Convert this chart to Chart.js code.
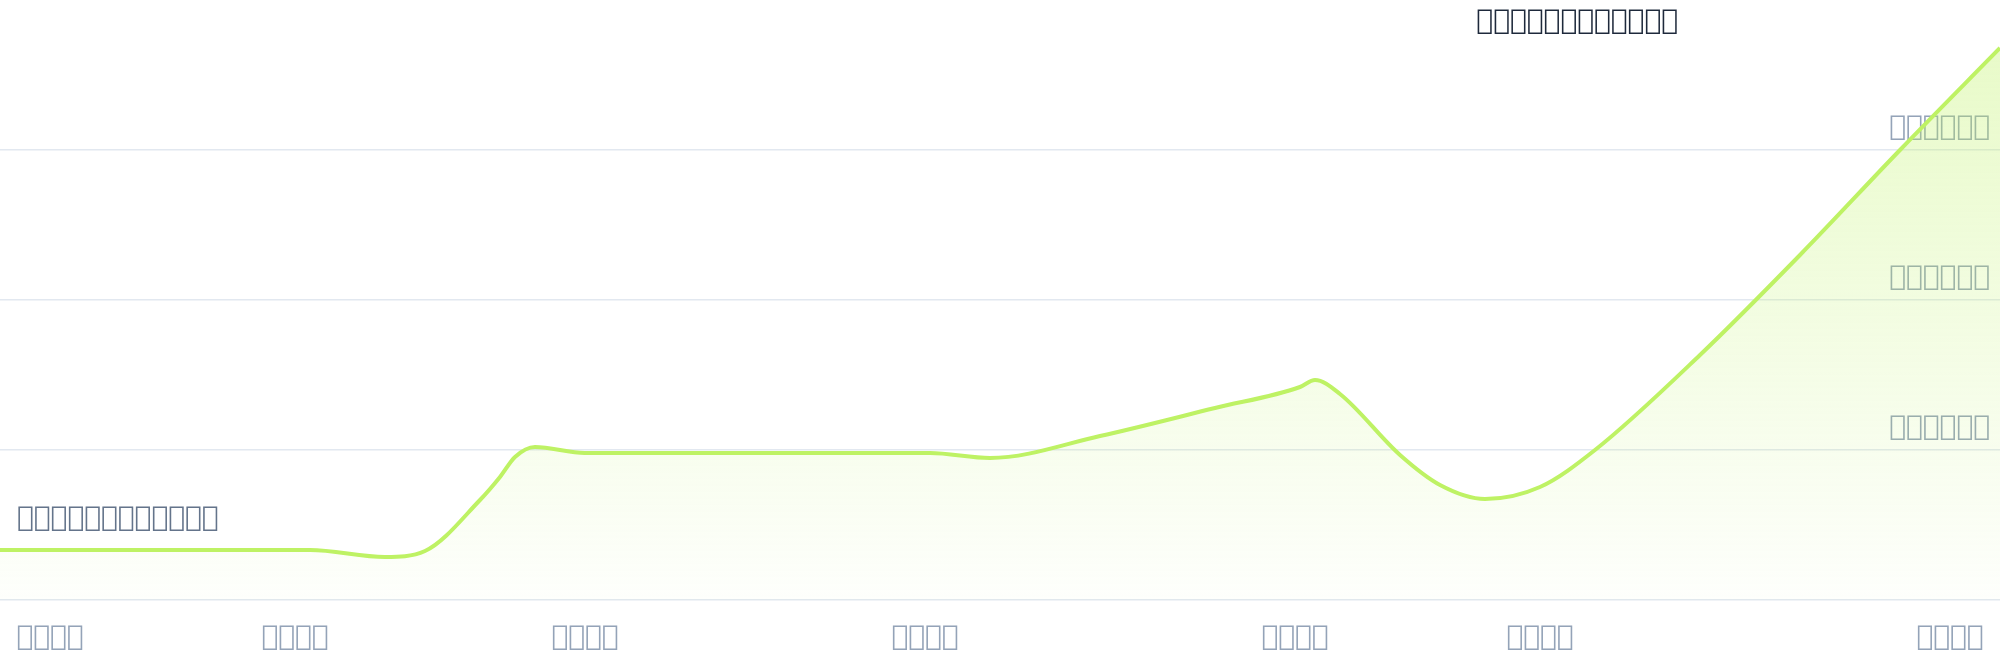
<!DOCTYPE html>
<html>
<head>
<meta charset="utf-8">
<script src="https://cdn.jsdelivr.net/npm/chart.js@4.4.1/dist/chart.umd.min.js"></script>
<style>
  html, body { margin: 0; padding: 0; background: #ffffff; }
  #wrap { width: 2000px; height: 660px; position: relative; }
</style>
</head>
<body>
<div id="wrap"><canvas id="priceChart"></canvas></div>
<script>
// days since start
const dayValues = [0, 62, 77, 85, 96, 100, 103, 107, 117, 186, 198, 220, 243, 260, 263, 268, 280, 288, 297, 308, 319, 340, 360, 380, 400];
const priceValues = [4000, 4000, 3440, 3920, 8000, 9840, 11440, 12240, 11760, 11760, 11360, 13120, 15360, 17040, 17600, 16480, 11600, 9200, 8080, 9040, 12000, 19600, 27600, 36000, 44160];

// the reference text shows only as empty glyph boxes, so it is kept as
// code points that no installed font covers
const xTickDays = [10, 59, 117, 185, 259, 308, 390];
const xTickLabels = [
    '\uE000\uE001\uE002\uE003', '\uE010\uE011\uE012\uE013', '\uE020\uE021\uE022\uE023',
    '\uE030\uE031\uE032\uE033', '\uE040\uE041\uE042\uE043', '\uE050\uE051\uE052\uE053',
    '\uE060\uE061\uE062\uE063'
];

const yTickValues = [0, 12000, 24000, 36000];
const yTickLabels = ['', '\uE100\uE101\uE102\uE103\uE104\uE105', '\uE110\uE111\uE112\uE113\uE114\uE115', '\uE120\uE121\uE122\uE123\uE124\uE125'];

const peakNote = '\uE200\uE201\uE202\uE203\uE204\uE205\uE206\uE207\uE208\uE209\uE20A\uE20B';
const startNote = '\uE300\uE301\uE302\uE303\uE304\uE305\uE306\uE307\uE308\uE309\uE30A\uE30B';

const FONT = "'DejaVu Sans', sans-serif";
const FSIZE = 28;

// two captions: top right and above the first point
const notesPlugin = {
    id: 'notes',
    afterDatasetsDraw(chart) {
        const { ctx, chartArea } = chart;
        ctx.save();
        ctx.font = FSIZE + 'px ' + FONT;
        ctx.textBaseline = 'middle';

        ctx.fillStyle = '#1e293b';
        ctx.textAlign = 'right';
        ctx.fillText(peakNote, chartArea.right - 322, 22);

        ctx.fillStyle = '#64748b';
        ctx.textAlign = 'left';
        ctx.fillText(startNote, chartArea.left + 17, 519);
        ctx.restore();
    }
};

const ctx = document.getElementById('priceChart');

new Chart(ctx, {
    type: 'line',
    data: {
        datasets: [{
            data: dayValues.map((d, i) => ({ x: d, y: priceValues[i] })),
            borderColor: '#bef264',
            borderWidth: 4,
            pointRadius: 0,
            cubicInterpolationMode: 'monotone',
            fill: 'start',
            backgroundColor: (c) => {
                const area = c.chart.chartArea;
                if (!area) return 'rgba(190,242,100,0.2)';
                const g = c.chart.ctx.createLinearGradient(0, area.top, 0, area.bottom);
                g.addColorStop(0, 'rgba(190,242,100,0.38)');
                g.addColorStop(1, 'rgba(190,242,100,0.02)');
                return g;
            }
        }]
    },
    options: {
        responsive: true,
        maintainAspectRatio: false,
        animation: false,
        layout: { padding: 0 },
        plugins: {
            legend: { display: false },
            tooltip: { enabled: false }
        },
        scales: {
            x: {
                type: 'linear',
                min: 0,
                max: 400,
                afterBuildTicks: (scale) => {
                    scale.ticks = xTickDays.map(v => ({ value: v }));
                },
                afterFit: (scale) => {
                    scale.height = 60;
                    scale.paddingLeft = 0;
                    scale.paddingRight = 0;
                },
                grid: { display: false },
                border: { display: false },
                ticks: {
                    autoSkip: false,
                    maxRotation: 0,
                    padding: 13,
                    color: '#94a3b8',
                    font: { size: FSIZE, family: FONT },
                    callback: (v, i) => xTickLabels[i]
                }
            },
            y: {
                position: 'right',
                min: 0,
                max: 48000,
                afterBuildTicks: (scale) => {
                    scale.ticks = yTickValues.map(v => ({ value: v }));
                },
                afterFit: (scale) => {
                    scale.width = 0;
                    scale.paddingTop = 0;
                    scale.paddingBottom = 0;
                },
                grid: { color: '#e2e8f0', lineWidth: 1.5, drawTicks: false },
                border: { display: false },
                ticks: {
                    mirror: true,
                    padding: -10,
                    labelOffset: -22,
                    color: '#94a3b8',
                    font: { size: FSIZE, family: FONT },
                    callback: (v, i) => yTickLabels[i]
                }
            }
        }
    },
    plugins: [notesPlugin]
});
</script>
</body>
</html>
